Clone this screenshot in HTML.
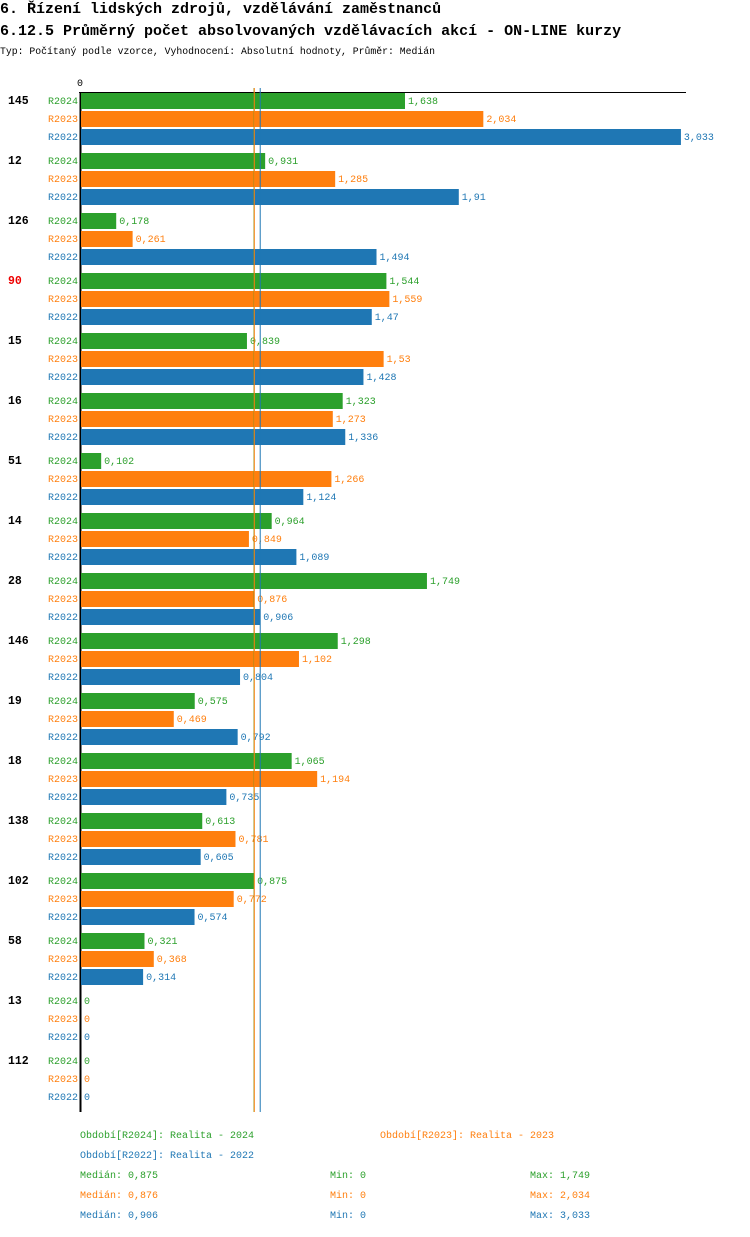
<!DOCTYPE html>
<html><head><meta charset="utf-8"><style>
body{margin:0;background:#fff;width:750px;height:1232px;overflow:hidden;font-family:"Liberation Mono",monospace}
svg text{font-family:"Liberation Mono",monospace}
</style></head><body>
<svg id="c" width="750" height="1232" xmlns="http://www.w3.org/2000/svg">
<text x="0" y="13" font-size="15" font-weight="bold">6. Řízení lidských zdrojů, vzdělávání zaměstnanců</text>
<text x="0" y="35" font-size="15" font-weight="bold">6.12.5 Průměrný počet absolvovaných vzdělávacích akcí - ON-LINE kurzy</text>
<text x="0" y="54" font-size="9.8">Typ: Počítaný podle vzorce, Vyhodnocení: Absolutní hodnoty, Průměr: Medián</text>
<text x="77" y="86" font-size="10">0</text>
<line x1="79" y1="92.5" x2="686" y2="92.5" stroke="#000" stroke-width="1"/>
<line x1="80.5" y1="92" x2="80.5" y2="1112" stroke="#000" stroke-width="2"/>
<g id="bars"></g>
<g id="lines"></g>
<g id="legend" font-size="10">
<text x="80" y="1138" fill="#2ca02c">Období[R2024]: Realita - 2024</text>
<text x="380" y="1138" fill="#ff7f0e">Období[R2023]: Realita - 2023</text>
<text x="80" y="1158" fill="#1f77b4">Období[R2022]: Realita - 2022</text>
<text x="80" y="1178" fill="#2ca02c">Medián: 0,875</text>
<text x="330" y="1178" fill="#2ca02c">Min: 0</text>
<text x="530" y="1178" fill="#2ca02c">Max: 1,749</text>
<text x="80" y="1198" fill="#ff7f0e">Medián: 0,876</text>
<text x="330" y="1198" fill="#ff7f0e">Min: 0</text>
<text x="530" y="1198" fill="#ff7f0e">Max: 2,034</text>
<text x="80" y="1218" fill="#1f77b4">Medián: 0,906</text>
<text x="330" y="1218" fill="#1f77b4">Min: 0</text>
<text x="530" y="1218" fill="#1f77b4">Max: 3,033</text>
</g>
</svg>
<script>
const categories=["145","12","126","90","15","16","51","14","28","146","19","18","138","102","58","13","112"];
const r2024=[1.638,0.931,0.178,1.544,0.839,1.323,0.102,0.964,1.749,1.298,0.575,1.065,0.613,0.875,0.321,0,0];
const r2023=[2.034,1.285,0.261,1.559,1.53,1.273,1.266,0.849,0.876,1.102,0.469,1.194,0.781,0.772,0.368,0,0];
const r2022=[3.033,1.91,1.494,1.47,1.428,1.336,1.124,1.089,0.906,0.804,0.792,0.735,0.605,0.574,0.314,0,0];
const medians=[0.875,0.876,0.906];
const seriesNames=["R2024","R2023","R2022"];
const colors=["#2ca02c","#ff7f0e","#1f77b4"];
const NS="http://www.w3.org/2000/svg";
const x=v=>81+v*197.8;
const yGroup=i=>93+i*60;
const bars=document.getElementById('bars');
const fmt=v=>String(v).replace('.',',');
function mk(tag,attrs,parent){const e=document.createElementNS(NS,tag);for(const k in attrs)e.setAttribute(k,attrs[k]);parent.appendChild(e);return e;}
const series=[r2024,r2023,r2022];
categories.forEach((c,i)=>{
  const y0=yGroup(i);
  const t=mk('text',{x:8,y:y0+11,'font-size':11.5,'font-weight':'bold',fill:c==="90"?"#e00":"#000"},bars);
  
  
  t.textContent=c;
  series.forEach((s,j)=>{
    const y=y0+j*18;
    const l=mk('text',{x:48,y:y+11,'font-size':10,fill:colors[j]},bars);
    
    
    l.textContent=seriesNames[j];
    const w=x(s[i])-81;
    if(w>0){
      const r=mk('rect',{x:81,y:y,width:w,height:16,fill:colors[j]},bars);
      
      
    }
    const v=mk('text',{x:x(s[i])+3,y:y+11,'font-size':10,fill:colors[j]},bars);
    
    
    v.textContent=fmt(s[i]);
  });
});
const lines=document.getElementById('lines');
medians.forEach((m,j)=>{
  const ln=mk('line',{x1:x(m),x2:x(m),y1:88,y2:1112,stroke:colors[j],'stroke-width':1},lines);
  
  
});
</script>
</body></html>
